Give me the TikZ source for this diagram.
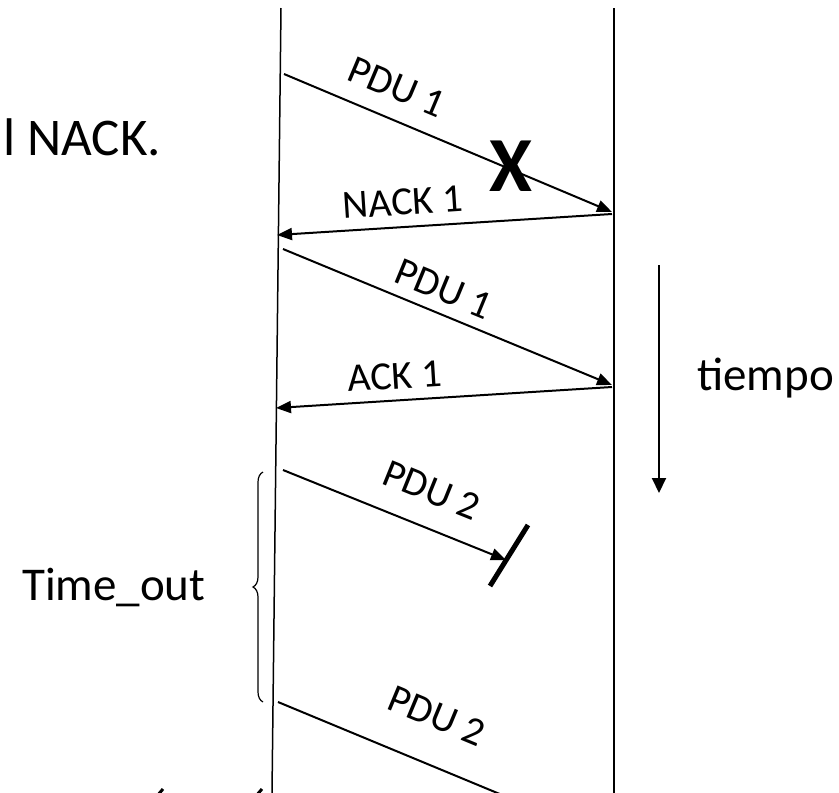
\documentclass[tikz,border=0pt]{standalone}
\usepackage{fontspec}
\setmainfont{Carlito}
\usetikzlibrary{arrows.meta,decorations.pathreplacing}
\begin{document}
\begin{tikzpicture}[x=1pt,y=-1pt,
  timeline/.style={line width=1.5pt},
  msg/.style={line width=2pt,-{Triangle[length=15pt,width=12pt]}},
  lbl/.style={inner sep=0pt,font=\fontsize{40}{48}\selectfont},
  big/.style={inner sep=0pt,font=\fontsize{47}{56}\selectfont}]
\useasboundingbox (0,0) rectangle (839,793);
% timelines
\coordinate (Ltop) at (281,8); \coordinate (Lbot) at (272,793);
\coordinate (Rtop) at (614,8); \coordinate (Rbot) at (614,793);
\draw[timeline] (Ltop) -- (Lbot);
\draw[timeline] (Rtop) -- (Rbot);
% message end points
\coordinate (a1) at (284,74);  \coordinate (b1) at (612,212);
\coordinate (b2) at (612,214); \coordinate (a2) at (277,235);
\coordinate (a3) at (283,249); \coordinate (b3) at (612,385);
\coordinate (b4) at (612,387); \coordinate (a4) at (276,408);
\coordinate (a5) at (283,470); \coordinate (b5) at (506,560);
\coordinate (a6) at (278,702); \coordinate (b6) at (507,797);
\draw[msg] (a1) -- (b1);
\draw[msg] (b2) -- (a2);
\draw[msg] (a3) -- (b3);
\draw[msg] (b4) -- (a4);
\draw[msg] (a5) -- (b5);
\draw[line width=2pt] (a6) -- (b6);
% lost marker bar
\coordinate (s1) at (490,586); \coordinate (s2) at (528,525);
\draw[line width=5pt] (s1) -- (s2);
% labels
\node[lbl,rotate=-22.8] (l1) at (397,87) {PDU 1};
\node[lbl,rotate=3.8] (l2) at (403,202) {NACK 1};
\node[inner sep=0pt,font=\fontsize{78}{80}\selectfont\bfseries] (x) at (511,166) {X};
\node[lbl,rotate=-22.4] (l3) at (444,289) {PDU 1};
\node[lbl,rotate=3.6] (l4) at (395,376) {ACK 1};
\node[lbl,rotate=-22] (l5) at (432,490) {PDU 2};
\node[lbl,rotate=-22.6] (l6) at (437,716) {PDU 2};
% time arrow
\coordinate (t1) at (659,265); \coordinate (t2) at (659,493);
\draw[line width=2pt,-{Triangle[length=15pt,width=14pt]}] (t1) -- (t2);
\node[big,anchor=base west] (tiempo) at (697,390) {tiempo};
% timeout brace
\coordinate (br1) at (263,702); \coordinate (br2) at (263,472);
\draw[line width=1.2pt,decorate,decoration={brace,amplitude=10pt}] (br1) -- (br2);
\node[big,anchor=base west] (to) at (22,600) {Time\_out};
% top text
\node[inner sep=0pt,anchor=base west,font=\fontsize{53}{60}\selectfont] (nack) at (3,155) {l NACK.};
% cut-off accent fragments at the bottom
\coordinate (f1a) at (157,796); \coordinate (f1b) at (163,789);
\coordinate (f2a) at (256,796); \coordinate (f2b) at (262,789);
\draw[line width=3pt] (f1a) -- (f1b);
\draw[line width=3pt] (f2a) -- (f2b);
\end{tikzpicture}
\end{document}
